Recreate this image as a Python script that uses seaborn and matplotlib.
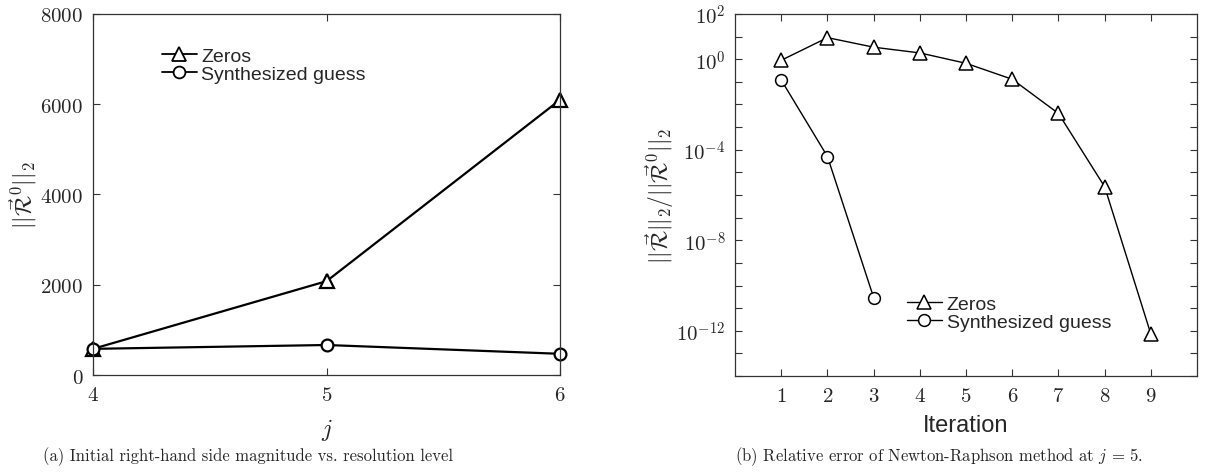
import matplotlib
matplotlib.use("Agg")
import matplotlib.pyplot as plt
import matplotlib.ticker as mticker
import seaborn as sns
import pandas as pd
import numpy as np

# ---- data ----
levels_j = [4, 5, 6]
zeros_rhs = [580, 2080, 6100]
synth_rhs = [580, 665, 470]

iter_zeros = [1, 2, 3, 4, 5, 6, 7, 8, 9]
err_zeros = [0.9, 9.0, 3.4, 1.9, 0.66, 0.13, 4e-3, 2.3e-6, 7e-13]
iter_synth = [1, 2, 3]
err_synth = [0.12, 5e-5, 2.9e-11]

labels = ["Zeros", "Synthesized guess"]
left_yticks = [0, 2000, 4000, 6000, 8000]
right_ytick_exps = [2, 0, -4, -8, -12]

sns.set_style("ticks")
plt.rcParams["mathtext.fontset"] = "cm"
plt.rcParams["font.family"] = ["Liberation Sans", "DejaVu Sans"]

fig = plt.figure(figsize=(12.07, 4.77), dpi=100)
ax1 = fig.add_axes([0.0771, 0.2117, 0.387, 0.7569])
ax2 = fig.add_axes([0.6090, 0.2096, 0.3828, 0.7590])

def style_axes(ax):
    for s in ax.spines.values():
        s.set_color("#333333")
        s.set_linewidth(0.9)
        s.set_visible(True)
    ax.tick_params(direction="in", top=True, right=True, length=5, width=0.8,
                   color="#333333", labelsize=15, pad=7)

marker_sizes = {"^": 9.5, "o": 8.5}

# ---- left panel ----
df1 = pd.DataFrame({"j": levels_j * 2,
                    "val": zeros_rhs + synth_rhs,
                    "series": [labels[0]] * 3 + [labels[1]] * 3})
for lab, mk in zip(labels, ["^", "o"]):
    sub = df1[df1.series == lab]
    sns.lineplot(data=sub, x="j", y="val", ax=ax1, color="black", lw=1.6,
                 marker=mk, markersize=marker_sizes[mk], markerfacecolor="white",
                 markeredgecolor="black", markeredgewidth=1.6, label=lab,
                 clip_on=False)
ax1.set_xlim(4, 6)
ax1.set_ylim(0, 8000)
ax1.set_xticks(levels_j)
ax1.set_xticklabels([f"${v}$" for v in levels_j])
ax1.set_yticks(left_yticks)
ax1.set_yticklabels([f"${v}$" for v in left_yticks])
style_axes(ax1)
ax1.set_xlabel("$j$", fontsize=17, labelpad=9)
ax1.set_ylabel(r"$||\vec{\mathcal{R}}^0||_2$", fontsize=17, labelpad=1)
leg1 = ax1.legend(loc="upper left", bbox_to_anchor=(0.13, 0.93), frameon=False,
                  fontsize=14, handlelength=1.8, handletextpad=0.25,
                  borderaxespad=0, labelspacing=0.05)
for h in leg1.legend_handles:
    h.set_linewidth(1.3)
    h.set_markeredgewidth(1.3)

# ---- right panel ----
for xs, ys, lab, mk in [(iter_zeros, err_zeros, labels[0], "^"),
                        (iter_synth, err_synth, labels[1], "o")]:
    d = pd.DataFrame({"it": xs, "err": ys})
    sns.lineplot(data=d, x="it", y="err", ax=ax2, color="black", lw=1.0,
                 marker=mk, markersize=marker_sizes[mk], markerfacecolor="white",
                 markeredgecolor="black", markeredgewidth=1.1, label=lab,
                 clip_on=False)
ax2.set_yscale("log")
ax2.set_xlim(0, 10)
ax2.set_ylim(1e-14, 1e2)
ax2.set_xticks(iter_zeros)
ax2.set_xticklabels([f"${v}$" for v in iter_zeros])
ax2.yaxis.set_major_locator(mticker.FixedLocator([10.0 ** e for e in range(-14, 3)]))
ax2.yaxis.set_minor_locator(mticker.NullLocator())
def fmt(v, pos):
    e = int(round(np.log10(v)))
    return f"$10^{{{e}}}$" if e in right_ytick_exps else ""
ax2.yaxis.set_major_formatter(mticker.FuncFormatter(fmt))
style_axes(ax2)
ax2.set_xlabel("Iteration", fontsize=17, labelpad=7)
ax2.set_ylabel(r"$||\vec{\mathcal{R}}||_2/||\vec{\mathcal{R}}^0||_2$", fontsize=17, labelpad=0)
leg2 = ax2.legend(loc="upper left", bbox_to_anchor=(0.355, 0.245), frameon=False,
                  fontsize=14, handlelength=1.8, handletextpad=0.25,
                  borderaxespad=0, labelspacing=0.05)
for h in leg2.legend_handles:
    h.set_linewidth(1.0)

# ---- captions ----
fig.text(248 / 1207, 1 - 457 / 477,
         "(a) Initial right-hand side magnitude vs. resolution level",
         ha="center", va="center", fontsize=12, family="cmr10")
fig.text(939 / 1207, 1 - 457 / 477,
         r"(b) Relative error of Newton-Raphson method at $j\,=\,5$.",
         ha="center", va="center", fontsize=12, family="cmr10")

fig.savefig("out.png", dpi=100)
